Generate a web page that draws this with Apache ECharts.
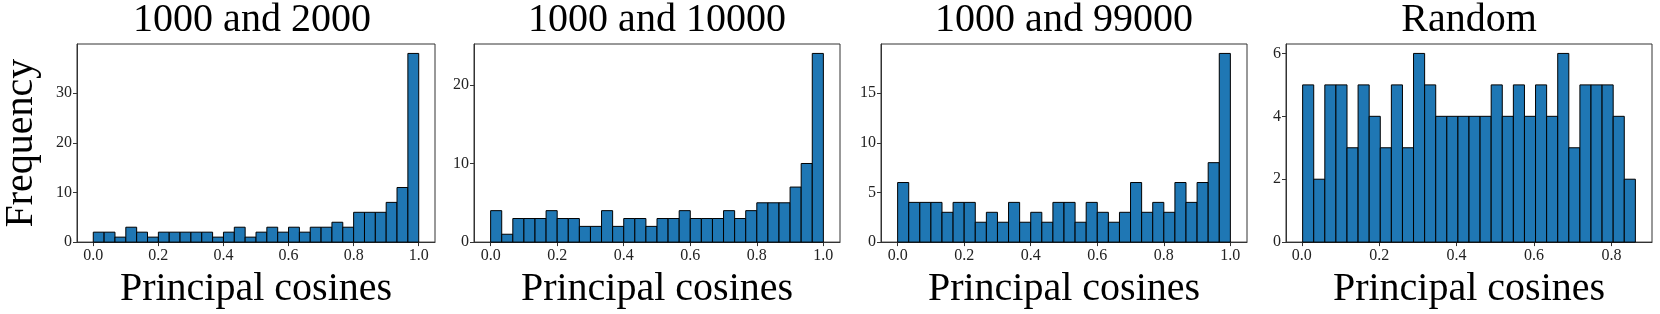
<!DOCTYPE html>
<html>
<head>
<meta charset="utf-8">
<script src="https://cdn.jsdelivr.net/npm/echarts@6/dist/echarts.min.js"></script>
<style>
html,body{margin:0;padding:0;background:#fff;}
#chart{width:1660px;height:314px;}
</style>
</head>
<body>
<div id="chart"></div>
<script>
// ---- data ----
const panelTitles = ['1000 and 2000', '1000 and 10000', '1000 and 99000', 'Random'];
const counts2000  = [2,2,1,3,2,1,2,2,2,2,2,1,2,3,1,2,3,2,3,2,3,3,4,3,6,6,6,8,11,38];
const counts10000 = [4,1,3,3,3,4,3,3,2,2,4,2,3,3,2,3,3,4,3,3,3,4,3,4,5,5,5,7,10,24];
const counts99000 = [6,4,4,4,3,4,4,2,3,2,4,2,3,2,4,4,2,4,3,2,3,6,3,4,3,6,4,6,8,19];
const countsRandom = [5,2,5,5,3,5,4,3,5,3,6,5,4,4,4,4,4,5,4,5,4,5,4,6,3,5,5,5,4,2];
const binLow  = [0, 0, 0, 0.002];
const binHigh = [1, 1, 1, 0.862];
const xTickValues = [[0,0.2,0.4,0.6,0.8,1.0],[0,0.2,0.4,0.6,0.8,1.0],[0,0.2,0.4,0.6,0.8,1.0],[0,0.2,0.4,0.6,0.8]];
const yTickValues = [[0,10,20,30],[0,10,20],[0,5,10,15],[0,2,4,6]];
const xAxisTitle = 'Principal cosines';
const yAxisTitle = 'Frequency';

const allCounts = [counts2000, counts10000, counts99000, countsRandom];

// ---- layout ----
const FONT = 'Liberation Serif';
const gridLefts = [69, 474, 881, 1286];
const gridW = 366, gridTop = 44, gridH = 201;

const chart = echarts.init(document.getElementById('chart'), null, {renderer:'canvas'});

const grids = [], xAxes = [], yAxes = [], series = [], titles = [];
allCounts.forEach((cnt, i) => {
  const lo = binLow[i], hi = binHigh[i];
  const span = hi - lo;
  const xmin = lo - 0.05 * span, xmax = hi + 0.05 * span;
  const ymax = Math.max(...cnt) * 1.05;
  grids.push({left: gridLefts[i], top: gridTop, width: gridW, height: gridH,
    show: true, borderColor: '#333', borderWidth: 1, backgroundColor: '#fff', containLabel: false});
  titles.push({text: panelTitles[i], left: gridLefts[i] + gridW / 2, top: 0, textAlign: 'center', padding: 0,
    textStyle: {fontFamily: FONT, fontSize: 40, fontWeight: 'normal', color: '#000'}});
  xAxes.push({type: 'value', gridIndex: i, min: xmin, max: xmax,
    name: xAxisTitle, nameLocation: 'middle', nameGap: 24,
    nameTextStyle: {fontFamily: FONT, fontSize: 40, color: '#000'},
    axisLine: {show: true, onZero: false, lineStyle: {color: '#333', width: 1}},
    axisTick: {show: true, length: 4, lineStyle: {color: '#333'}, customValues: xTickValues[i]},
    axisLabel: {fontFamily: FONT, fontSize: 16, color: '#222', margin: 6, customValues: xTickValues[i],
      formatter: v => v.toFixed(1)},
    splitLine: {show: false}});
  yAxes.push({type: 'value', gridIndex: i, min: 0, max: ymax,
    name: i === 0 ? yAxisTitle : '', nameLocation: 'middle', nameGap: 36, nameRotate: 90,
    nameTextStyle: {fontFamily: FONT, fontSize: 40, color: '#000'},
    axisLine: {show: true, onZero: false, lineStyle: {color: '#333', width: 1}},
    axisTick: {show: true, length: 4, lineStyle: {color: '#333'}, customValues: yTickValues[i]},
    axisLabel: {fontFamily: FONT, fontSize: 16, color: '#222', margin: 5, customValues: yTickValues[i]},
    splitLine: {show: false}});
  const n = cnt.length;
  const data = cnt.map((c, k) => [lo + k * span / n, lo + (k + 1) * span / n, c]);
  series.push({type: 'custom', xAxisIndex: i, yAxisIndex: i, data: data,
    renderItem: (params, api) => {
      const p0 = api.coord([api.value(0), api.value(2)]);
      const p1 = api.coord([api.value(1), 0]);
      return {type: 'rect', shape: {x: p0[0], y: p0[1], width: p1[0] - p0[0], height: p1[1] - p0[1]},
        style: {fill: '#1f77b4', stroke: '#000', lineWidth: 1}};
    }});
});

chart.setOption({animation: false, backgroundColor: '#fff', title: titles, grid: grids, xAxis: xAxes, yAxis: yAxes, series: series});
</script>
</body>
</html>
